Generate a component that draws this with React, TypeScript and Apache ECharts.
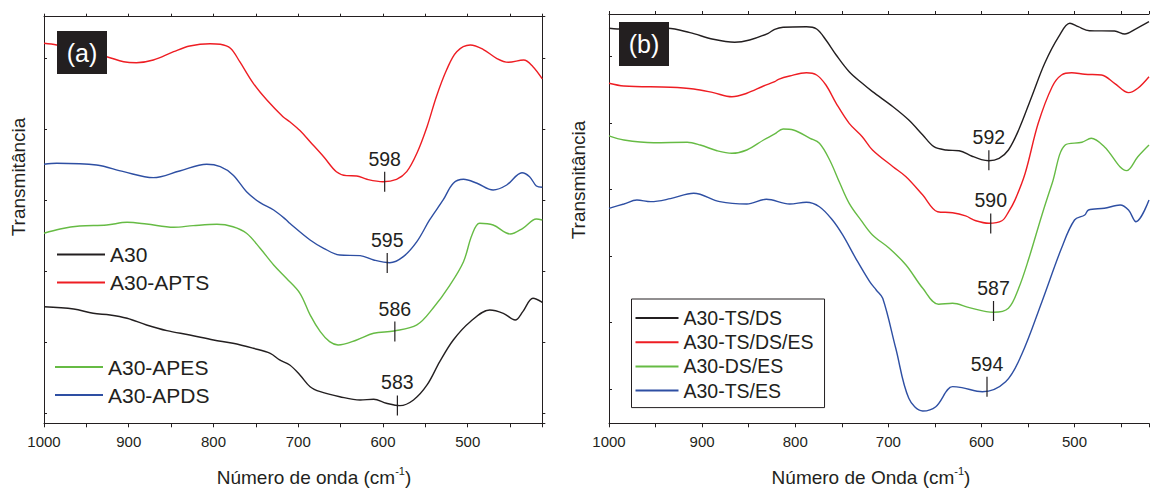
import React, { useEffect, useRef } from "react";
import * as echarts from "echarts";

const FONT = '"Liberation Sans", Arial, Helvetica, sans-serif';
const INK = "#231f20";

// ---------- Panel (a) : [wavenumber cm-1, transmittance (a.u.)] ----------
const a30: [number, number][] = [
  [1000, 1.499], [965, 1.467], [942, 1.406], [922, 1.383], [902, 1.336], [879, 1.242],
  [855, 1.162], [828, 1.101], [800, 1.031], [777, 0.985], [753, 0.914], [733, 0.844],
  [722, 0.75], [710, 0.679], [698, 0.539], [686, 0.374], [674, 0.304], [651, 0.233],
  [627, 0.187], [611, 0.197], [596, 0.141], [580, 0.107], [564, 0.187], [548, 0.398],
  [533, 0.726], [517, 1.031], [497, 1.288], [474, 1.453], [458, 1.406], [444, 1.312],
  [435, 1.429], [423, 1.617], [412, 1.561],
];
const a30Apts: [number, number][] = [
  [1000, 5.204], [985, 5.18], [926, 5.015], [906, 4.945], [891, 4.931], [871, 4.969],
  [847, 5.086], [828, 5.166], [804, 5.198], [792, 5.19], [780, 5.134], [769, 4.945],
  [753, 4.641], [737, 4.406], [718, 4.172], [710, 4.101], [698, 3.977], [686, 3.82],
  [670, 3.609], [655, 3.398], [643, 3.342], [631, 3.338], [619, 3.291], [600, 3.257],
  [584, 3.291], [572, 3.398], [560, 3.657], [548, 4.031], [537, 4.453], [525, 4.828],
  [513, 5.086], [497, 5.18], [482, 5.12], [466, 4.993], [452, 4.937], [434, 4.969],
  [423, 4.875], [412, 4.702],
];
const a30Apes: [number, number][] = [
  [1000, 2.532], [981, 2.592], [958, 2.634], [926, 2.648], [902, 2.686], [879, 2.662],
  [847, 2.616], [824, 2.639], [796, 2.658], [777, 2.624], [761, 2.532], [745, 2.321],
  [729, 2.086], [714, 1.899], [698, 1.688], [686, 1.383], [674, 1.148], [663, 1.007],
  [653, 0.961], [631, 1.031], [611, 1.125], [587, 1.158], [560, 1.242], [541, 1.477],
  [521, 1.804], [505, 2.132], [495, 2.508], [486, 2.672], [470, 2.648], [450, 2.522],
  [435, 2.602], [419, 2.733], [412, 2.719],
];
const a30Apds: [number, number][] = [
  [1000, 3.502], [985, 3.516], [938, 3.492], [906, 3.398], [871, 3.314], [840, 3.408],
  [808, 3.502], [792, 3.468], [777, 3.352], [761, 3.117], [745, 2.962], [729, 2.859],
  [714, 2.719], [710, 2.672], [686, 2.437], [670, 2.321], [651, 2.226], [627, 2.217],
  [611, 2.156], [592, 2.118], [576, 2.203], [560, 2.414], [545, 2.719], [529, 3.0],
  [517, 3.235], [505, 3.291], [489, 3.235], [470, 3.141], [454, 3.211], [436, 3.384],
  [427, 3.328], [419, 3.197], [412, 3.179],
];

// ---------- Panel (b) ----------
const tsDs: [number, number][] = [
  [1000, 5.424], [991, 5.414], [937, 5.424], [913, 5.358], [888, 5.259], [865, 5.214],
  [849, 5.248], [829, 5.349], [822, 5.409], [813, 5.439], [788, 5.448], [777, 5.414],
  [767, 5.248], [756, 5.023], [742, 4.771], [728, 4.597], [717, 4.471], [695, 4.245],
  [678, 4.045], [663, 3.82], [651, 3.644], [638, 3.594], [624, 3.583], [610, 3.5],
  [600, 3.45], [592, 3.433], [581, 3.469], [571, 3.594], [560, 3.895], [546, 4.395],
  [532, 4.898], [517, 5.298], [505, 5.499], [496, 5.448], [484, 5.388], [457, 5.383],
  [446, 5.338], [435, 5.409], [420, 5.523],
];
const tsDsEs: [number, number][] = [
  [1000, 4.597], [984, 4.556], [934, 4.537], [909, 4.511], [888, 4.456], [868, 4.395],
  [852, 4.447], [834, 4.556], [822, 4.621], [818, 4.657], [806, 4.707], [788, 4.756],
  [777, 4.722], [767, 4.571], [756, 4.296], [742, 3.995], [728, 3.794], [717, 3.594],
  [695, 3.343], [681, 3.192], [663, 2.917], [647, 2.666], [631, 2.651], [617, 2.602],
  [606, 2.53], [592, 2.492], [578, 2.53], [571, 2.66], [564, 2.84], [553, 3.244],
  [539, 3.995], [524, 4.546], [514, 4.722], [503, 4.756], [489, 4.732], [471, 4.722],
  [457, 4.597], [442, 4.456], [432, 4.522], [420, 4.696],
];
const dsEs: [number, number][] = [
  [1000, 3.805], [984, 3.744], [952, 3.704], [916, 3.71], [902, 3.669], [884, 3.583],
  [868, 3.544], [852, 3.594], [834, 3.744], [822, 3.835], [813, 3.91], [802, 3.895],
  [784, 3.77], [774, 3.695], [763, 3.444], [752, 3.093], [742, 2.792], [729, 2.531],
  [717, 2.316], [699, 2.116], [681, 1.865], [663, 1.514], [646, 1.274], [631, 1.289],
  [613, 1.223], [587, 1.153], [571, 1.214], [560, 1.514], [549, 1.965], [535, 2.617],
  [524, 3.093], [510, 3.669], [492, 3.71], [482, 3.77], [468, 3.644], [444, 3.283],
  [432, 3.493], [420, 3.669],
];
const tsEs: [number, number][] = [
  [1000, 2.717], [984, 2.782], [970, 2.842], [955, 2.817], [934, 2.862], [909, 2.943],
  [881, 2.817], [852, 2.782], [831, 2.853], [806, 2.782], [788, 2.808], [774, 2.741],
  [760, 2.541], [749, 2.316], [735, 1.965], [720, 1.614], [713, 1.489], [706, 1.364],
  [692, 0.612], [678, -0.14], [663, -0.331], [649, -0.266], [631, 0.035], [621, 0.02],
  [599, -0.041], [574, 0.11], [557, 0.511], [535, 1.313], [514, 2.116], [500, 2.541],
  [489, 2.617], [485, 2.692], [468, 2.717], [451, 2.767], [442, 2.692], [434, 2.516],
  [420, 2.842],
];

// peak annotations: [wavenumber, transmittance at the peak]
const peaksA: [number, number][] = [[598, 3.257], [595, 2.114], [586, 1.15], [583, 0.11]];
const peaksB: [number, number][] = [[592, 3.438], [590, 2.489], [587, 1.173], [594, 0.035]];

const namesA = ["A30", "A30-APTS", "A30-APES", "A30-APDS"];
const namesB = ["A30-TS/DS", "A30-TS/DS/ES", "A30-DS/ES", "A30-TS/ES"];
const colors = [INK, "#ee1d23", "#66bb44", "#2e4fa3"];

export default function App() {
  const ref = useRef<HTMLDivElement>(null);
  useEffect(() => {
    if (!ref.current) return;
    const chart = echarts.init(ref.current, undefined, { renderer: "svg" });

    const xBase = (grid: number, min: number, pos: "top" | "bottom") => ({
      type: "value",
      gridIndex: grid,
      min,
      max: 1000,
      inverse: true,
      position: pos,
      minInterval: 50,
      maxInterval: 50,
      splitNumber: 12,
      axisLine: { show: true, onZero: false, lineStyle: { color: INK, width: 1 } },
      axisTick: { show: true, inside: false, length: pos === "bottom" ? 4 : 3, lineStyle: { color: INK } },
      axisLabel: {
        show: pos === "bottom",
        color: INK,
        fontSize: 15,
        fontFamily: FONT,
        margin: 11,
        formatter: (v: number) => (v % 100 === 0 ? String(v) : ""),
      },
      splitLine: { show: false },
    });

    const yBase = (grid: number, min: number, max: number, pos: "left" | "right", inside: boolean) => ({
      type: "value",
      gridIndex: grid,
      min,
      max,
      position: pos,
      axisLine: { show: true, onZero: false, lineStyle: { color: INK, width: 1 } },
      axisTick: { show: true, inside, length: 3, lineStyle: { color: INK } },
      axisLabel: { show: false },
      splitLine: { show: false },
    });

    const lineSeries = (name: string, data: [number, number][], color: string, g: number) => ({
      type: "line",
      name,
      data,
      xAxisIndex: g === 0 ? 0 : 2,
      yAxisIndex: g === 0 ? 0 : 2,
      symbol: "none",
      smooth: 0.35,
      lineStyle: { color, width: 1.4 },
      itemStyle: { color },
      z: 3,
    });

    const peakSeries = (data: [number, number][], g: number) => ({
      type: "scatter",
      name: "peaks" + g,
      data,
      xAxisIndex: g === 0 ? 0 : 2,
      yAxisIndex: g === 0 ? 0 : 2,
      symbol: "rect",
      symbolSize: [1.2, 20],
      itemStyle: { color: INK, opacity: 1 },
      z: 4,
      label: {
        show: true,
        position: "top",
        distance: 3,
        color: INK,
        opacity: 1,
        fontSize: 19.5,
        fontFamily: FONT,
        formatter: (p: any) => String(p.value[0]),
      },
    });

    const legendCommon = {
      orient: "vertical",
      icon: "rect",
      selectedMode: false,
      itemHeight: 2,
      textStyle: { color: INK, fontFamily: FONT, lineHeight: 20 },
    };

    const rich = {
      a: { fontSize: 19, fontFamily: FONT, fill: INK, color: INK },
      s: { fontSize: 11, fontFamily: FONT, fill: INK, color: INK, padding: [0, 0, 12, 0] },
    };

    chart.setOption({
      animation: false,
      backgroundColor: "#fff",
      grid: [
        { left: 44, top: 16.7, width: 498.3, height: 406.6 },
        { left: 609, top: 14, width: 543, height: 409.3 },
      ],
      xAxis: [xBase(0, 412, "bottom"), xBase(0, 412, "top"), xBase(1, 420, "bottom"), xBase(1, 420, "top")],
      yAxis: [
        yBase(0, -0.141, 5.578, "left", true),
        yBase(0, -0.141, 5.578, "right", false),
        yBase(1, -0.516, 5.639, "left", true),
      ],
      legend: [
        {
          ...legendCommon,
          data: [namesA[0], namesA[1]],
          left: 57,
          top: 244,
          padding: 0,
          itemGap: 7,
          itemWidth: 48,
          textStyle: { ...legendCommon.textStyle, fontSize: 21 },
        },
        {
          ...legendCommon,
          data: [namesA[2], namesA[3]],
          left: 55,
          top: 356.5,
          padding: 0,
          itemGap: 7,
          itemWidth: 48,
          textStyle: { ...legendCommon.textStyle, fontSize: 21 },
        },
        {
          ...legendCommon,
          data: namesB,
          left: 631.5,
          top: 299,
          padding: [9, 11, 7, 4],
          itemGap: 4.2,
          itemWidth: 43,
          borderColor: INK,
          borderWidth: 1,
          backgroundColor: "#fff",
          textStyle: { ...legendCommon.textStyle, fontSize: 19.5 },
        },
      ],
      graphic: [
        { type: "rect", shape: { x: 57, y: 31, width: 50, height: 43 }, style: { fill: INK }, z: 10 },
        {
          type: "text", x: 82, y: 52.5, z: 11,
          style: { text: "(a)", fill: "#fff", fontSize: 25, fontFamily: FONT, align: "center", verticalAlign: "middle" },
        },
        { type: "rect", shape: { x: 619, y: 22, width: 50, height: 44 }, style: { fill: INK }, z: 10 },
        {
          type: "text", x: 644, y: 44, z: 11,
          style: { text: "(b)", fill: "#fff", fontSize: 25, fontFamily: FONT, align: "center", verticalAlign: "middle" },
        },
        {
          type: "text", x: 18.5, y: 177, rotation: Math.PI / 2,
          style: { text: "Transmitância", fill: INK, fontSize: 19, fontFamily: FONT, align: "center", verticalAlign: "middle" },
        },
        {
          type: "text", x: 578, y: 180, rotation: Math.PI / 2,
          style: { text: "Transmitância", fill: INK, fontSize: 19, fontFamily: FONT, align: "center", verticalAlign: "middle" },
        },
        {
          type: "text", x: 314, y: 477,
          style: { text: "{a|Número de onda (cm}{s|-1}{a|)}", rich, fill: INK, fontSize: 19, fontFamily: FONT, align: "center", verticalAlign: "middle" },
        },
        {
          type: "text", x: 871, y: 477,
          style: { text: "{a|Número de Onda (cm}{s|-1}{a|)}", rich, fill: INK, fontSize: 19, fontFamily: FONT, align: "center", verticalAlign: "middle" },
        },
      ],
      series: [
        lineSeries(namesA[0], a30, colors[0], 0),
        lineSeries(namesA[1], a30Apts, colors[1], 0),
        lineSeries(namesA[2], a30Apes, colors[2], 0),
        lineSeries(namesA[3], a30Apds, colors[3], 0),
        lineSeries(namesB[0], tsDs, colors[0], 1),
        lineSeries(namesB[1], tsDsEs, colors[1], 1),
        lineSeries(namesB[2], dsEs, colors[2], 1),
        lineSeries(namesB[3], tsEs, colors[3], 1),
        peakSeries(peaksA, 0),
        peakSeries(peaksB, 1),
      ],
    });
    return () => chart.dispose();
  }, []);

  return (
    <div
      ref={ref}
      style={{ position: "fixed", left: 0, top: 0, width: 1152, height: 488, background: "#fff" }}
    />
  );
}
